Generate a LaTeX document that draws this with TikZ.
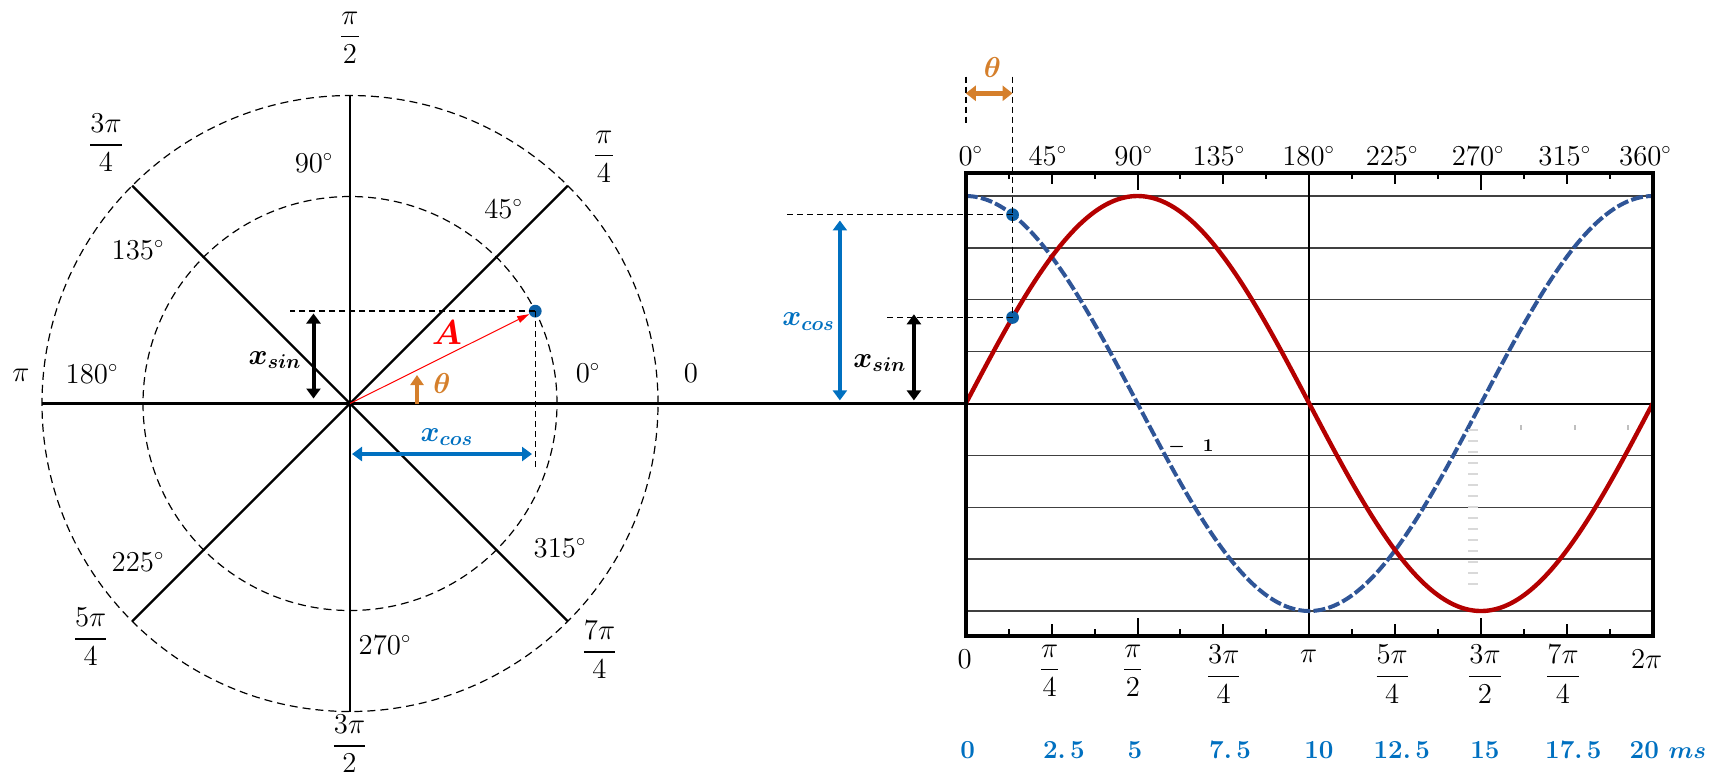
\documentclass[tikz,border=0pt]{standalone}
\usepackage{amsmath}
\usepackage{bm}
\usetikzlibrary{arrows.meta,calc}
\definecolor{cblue}{HTML}{0070C0}
\definecolor{corange}{HTML}{D57F2B}
\definecolor{cred}{HTML}{B40000}
\definecolor{cnavy}{HTML}{2F5597}
\definecolor{cdot}{HTML}{0B5FA5}
\begin{document}
\begin{tikzpicture}[x=0.5pt,y=-0.5pt,
  lbl/.style={inner sep=0pt, font=\fontsize{13.5}{15}\selectfont},
  deg/.style={inner sep=0pt, font=\fontsize{13.5}{15}\selectfont},
  bl/.style={inner sep=0pt, font=\fontsize{14}{16}\selectfont\boldmath},
  ms/.style={inner sep=0pt, text=cblue, font=\fontsize{13}{15}\selectfont\bfseries\boldmath},
  dcirc/.style={dash pattern=on 4pt off 2.5pt, line width=0.6pt},
  spoke/.style={line width=1.2pt},
  guide/.style={dash pattern=on 3pt off 2pt, line width=0.7pt},
  dbl/.style={line width=2pt, {Triangle[length=5pt,width=7pt]}-{Triangle[length=5pt,width=7pt]}},
  dot/.style={circle, fill=cdot, inner sep=0pt, minimum size=6.4pt},
  gridl/.style={line width=0.7pt, black!75},
  tck/.style={line width=1pt}]
\useasboundingbox (0,0) rectangle (1732,778);

% ---------------- left: circle ----------------
\coordinate (O) at (350,403.5);
\coordinate (Z) at (965.8,403.5);
\draw[dcirc] (O) circle[radius=154pt];
\draw[dcirc] (O) circle[radius=103.5pt];
\draw[spoke] ($(O)+(45:154pt)$) -- ($(O)+(225:154pt)$);
\draw[spoke] ($(O)+(135:154pt)$) -- ($(O)+(315:154pt)$);
\draw[spoke] ($(O)+(90:154pt)$) -- ($(O)+(270:154pt)$);
\draw[spoke] ($(O)+(180:154pt)$) -- (Z);

\node[dot] (P) at ($(O)+(26.5:103.5pt)$) {};
\coordinate (gL) at (290,0);
\coordinate (gB) at (0,468);
\draw[guide] (P.center) -- (P.center -| gL);
\draw[guide] (P.center) -- (P.center |- gB);
\draw[red, line width=0.5pt, -{Triangle[length=6pt,width=3.5pt]}] (O) -- (P);

\coordinate (s1) at (313.5,398.5);
\coordinate (s2) at (313.5,313.5);
\draw[dbl] (s1) -- (s2);
\coordinate (c1) at (352,454);
\coordinate (c2) at (532,454);
\draw[dbl, cblue] (c1) -- (c2);
\coordinate (th1) at (417,403.5);
\coordinate (th2) at (417,375);
\draw[line width=2.2pt, corange, -{Triangle[length=5pt,width=6.5pt]}] (th1) -- (th2);

\node[bl] (lxs) at (275,360) {$x_{sin}$};
\node[bl, text=cblue] (lxc) at (447,437) {$x_{cos}$};
\node[inner sep=0pt, text=red, font=\fontsize{17}{19}\selectfont\boldmath] (lA) at (447,333) {$A$};
\node[bl, text=corange] (lth) at (442,383) {$\theta$};

\node[lbl] (f90) at (350,38) {$\dfrac{\pi}{2}$};
\node[lbl] (f135) at (106,143) {$\dfrac{3\pi}{4}$};
\node[lbl] (f45) at (604,157) {$\dfrac{\pi}{4}$};
\node[deg] (d90) at (314,163) {$90^{\circ}$};
\node[deg] (d45) at (503.6,209) {$45^{\circ}$};
\node[deg] (d135) at (138,250) {$135^{\circ}$};
\node[deg] (fpi) at (21,375) {$\pi$};
\node[deg] (d180) at (92,374) {$180^{\circ}$};
\node[deg] (d0) at (588,373) {$0^{\circ}$};
\node[deg] (f0) at (691,373) {$0$};
\node[deg] (d225) at (138,562) {$225^{\circ}$};
\node[deg] (d315) at (560,548) {$315^{\circ}$};
\node[lbl] (f225) at (90.6,637) {$\dfrac{5\pi}{4}$};
\node[lbl] (f315) at (599.5,650) {$\dfrac{7\pi}{4}$};
\node[deg] (d270) at (385,645) {$270^{\circ}$};
\node[lbl] (f270) at (349.5,744) {$\dfrac{3\pi}{2}$};

% ---------------- right: chart ----------------
\begin{scope}[shift={(965.8,403.5)}, x=0.954pt, y=103.75pt]
  \foreach \v in {0.25,0.5,0.75,1,-0.25,-0.5,-0.75,-1}
    \draw[gridl] (0,\v) -- (360,\v);
  \draw[line width=1pt] (0,0) -- (360,0);
  \draw[line width=1pt] (180,-1.122) -- (180,1.11);
  \foreach \d in {22.5,67.5,...,337.5} {
    \draw[tck] (\d,1.11) -- ++(0,-3pt);
    \draw[tck] (\d,-1.122) -- ++(0,3.5pt);}
  \foreach \d in {45,135,225,315} {
    \draw[tck] (\d,1.11) -- ++(0,-5.5pt);
    \draw[tck] (\d,-1.122) -- ++(0,6pt);}
  \foreach \d in {90,270} {
    \draw[tck] (\d,1.11) -- ++(0,-8.5pt);
    \draw[tck] (\d,-1.122) -- ++(0,9pt);}

  \draw[cnavy, line width=2pt, dash pattern=on 6pt off 1.6pt]
    plot[domain=0:360, samples=121, smooth] (\x,{cos(\x)});
  \draw[cred, line width=2.2pt]
    plot[domain=0:360, samples=121, smooth] (\x,{sin(\x)});
  \draw[line width=2pt] (0,-1.122) rectangle (360,1.11);

  \node[dot] (cd) at (24.5,{cos(24.5)}) {};
  \node[dot] (sd) at (24.5,{sin(24.5)}) {};
  \coordinate (cL) at (-95.3,0);
  \coordinate (sL) at (-43.6,0);
  \draw[guide] (cd.center) -- (cd.center -| cL);
  \draw[guide] (sd.center) -- (sd.center -| sL);
  \coordinate (tT) at (24.5,1.575);
  \draw[guide] (tT) -- (sd.center);
  \coordinate (zT) at (0,1.575);
  \coordinate (zB) at (0,1.352);
  \draw[guide] (zT) -- (zB);
  \coordinate (oa) at (0,1.495);
  \coordinate (ob) at (24.5,1.495);
  \draw[corange, line width=2.4pt, {Triangle[length=5pt,width=7.5pt]}-{Triangle[length=5pt,width=7.5pt]}] (oa) -- (ob);
  \node[bl, text=corange] (rth) at (14,1.62) {$\theta$};

  \coordinate (xc1) at (-66,0.015);
  \coordinate (xc2) at (-66,0.882);
  \draw[dbl, cblue] (xc1) -- (xc2);
  \coordinate (xs1) at (-27.2,0.015);
  \coordinate (xs2) at (-27.2,0.43);
  \draw[dbl] (xs1) -- (xs2);
  \node[bl, text=cblue] (rxc) at (-82.4,0.394) {$x_{cos}$};
  \node[bl] (rxs) at (-45,0.195) {$x_{sin}$};

  \foreach \d/\t in {2.6/0,43/45,88/90,132.6/135,179.7/180,223.4/225,268.5/270,313.9/315,356.2/360}
    \node[deg, anchor=base] (top\t) at (\d,1.149) {$\t^{\circ}$};

  \node[deg, anchor=north] (b0) at (-0.6,-1.187) {$0$};
  \node[deg, anchor=north] (b180) at (179.7,-1.187) {$\pi$};
  \node[deg, anchor=north] (b360) at (356.8,-1.187) {$2\pi$};
  \node[lbl, anchor=north] (b45) at (43.9,-1.163) {$\dfrac{\pi}{4}$};
  \node[lbl, anchor=north] (b90) at (87.6,-1.163) {$\dfrac{\pi}{2}$};
  \node[lbl, anchor=north] (b135) at (135.2,-1.163) {$\dfrac{3\pi}{4}$};
  \node[lbl, anchor=north] (b225) at (223.4,-1.163) {$\dfrac{5\pi}{4}$};
  \node[lbl, anchor=north] (b270) at (272.1,-1.163) {$\dfrac{3\pi}{2}$};
  \node[lbl, anchor=north] (b315) at (313,-1.163) {$\dfrac{7\pi}{4}$};

  \node[ms, anchor=base] (m0) at (1,-1.71) {0};
  \node[ms, anchor=base] (m1) at (51.4,-1.71) {2.\,5};
  \node[ms, anchor=base] (m2) at (88.7,-1.71) {5};
  \node[ms, anchor=base] (m3) at (138.5,-1.71) {7.\,5};
  \node[ms, anchor=base] (m4) at (185.1,-1.71) {10};
  \node[ms, anchor=base] (m5) at (228.5,-1.71) {12.\,5};
  \node[ms, anchor=base] (m6) at (272.1,-1.71) {15};
  \node[ms, anchor=base] (m7) at (318.4,-1.71) {17.\,5};
  \node[ms, anchor=base] (m8) at (368,-1.71) {20 $ms$};

  \node[inner sep=0pt, font=\fontsize{9}{10}\selectfont\bfseries\boldmath] (art) at (118,-0.208) {$-$\hspace{9pt}1};
\end{scope}

% faint artefacts
\foreach \yy in {430,441,...,585}
  \draw[black!15, line width=0.6pt] (1468,\yy) -- (1478,\yy);
\foreach \xx in {1521,1575,1628}
  \draw[black!25, line width=0.6pt] (\xx,425) -- (\xx,430);
\end{tikzpicture}
\end{document}
